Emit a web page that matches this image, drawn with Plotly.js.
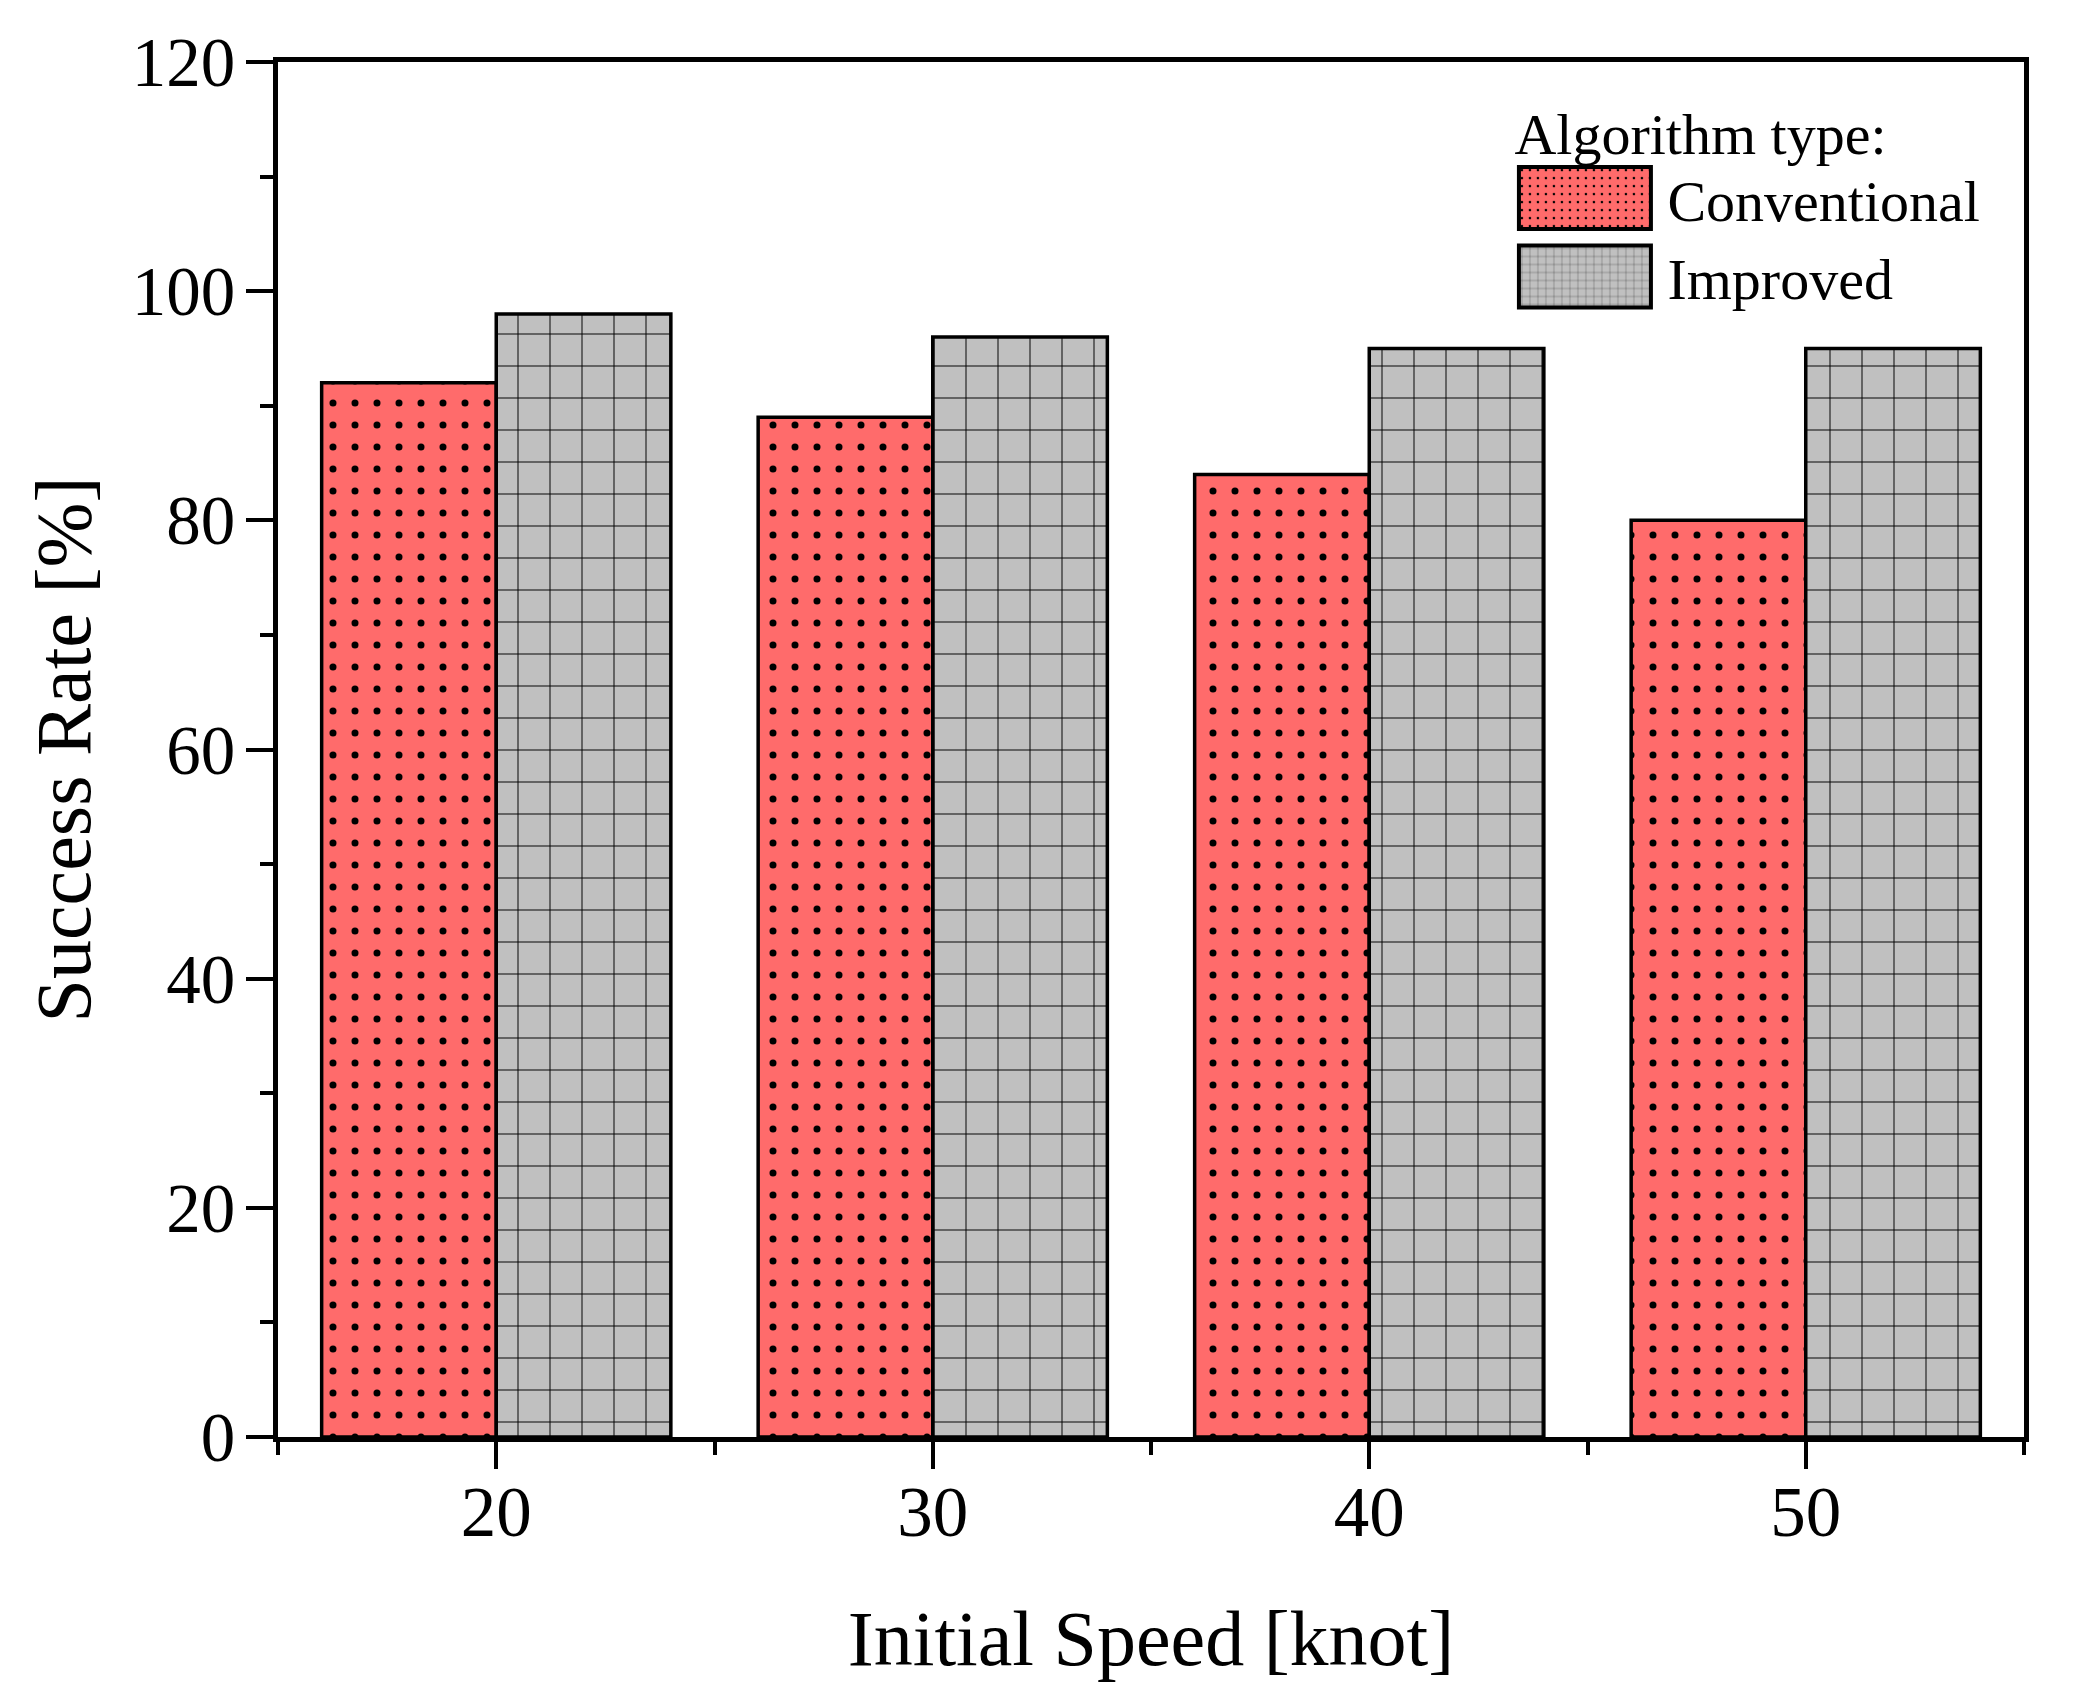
<!DOCTYPE html>
<html>
<head>
<meta charset="utf-8">
<script src="https://cdn.plot.ly/plotly-3.0.1.min.js"></script>
<style>
  html, body { margin: 0; padding: 0; background: #fff; }
  #chart { width: 2073px; height: 1707px; }
</style>
</head>
<body>
<div id="chart"></div>
<script>
// initial speed in knots
var speeds = [20, 30, 40, 50];
// success rate in percent
var conventional = [92, 89, 84, 80];
var improved = [98, 96, 95, 95];
var yTicks = [0, 20, 40, 60, 80, 100, 120];

var serif = '"Liberation Serif", "Times New Roman", serif';

var traces = [
  {
    type: 'bar',
    name: 'Conventional',
    x: speeds,
    y: conventional,
    marker: {
      color: '#ff6b6b',
      line: {color: '#000', width: 3.5},
      pattern: {shape: '.', bgcolor: '#ff6b6b', fgcolor: '#000', size: 22, solidity: 0.08}
    }
  },
  {
    type: 'bar',
    name: 'Improved',
    x: speeds,
    y: improved,
    marker: {
      color: '#c0c0c0',
      line: {color: '#000', width: 3.5},
      pattern: {shape: '+', bgcolor: '#c0c0c0', fgcolor: '#000', size: 32, solidity: 0.06}
    }
  }
];

var layout = {
  width: 2073,
  height: 1707,
  margin: {l: 278, r: 49, t: 62, b: 270},
  paper_bgcolor: '#fff',
  plot_bgcolor: '#fff',
  font: {family: serif, color: '#000', size: 70},
  barmode: 'group',
  bargap: 0.2,
  bargroupgap: 0,
  showlegend: true,
  xaxis: {
    range: [15, 55],
    tickvals: speeds,
    ticks: 'outside',
    ticklen: 27,
    tickwidth: 4,
    tickcolor: '#000',
    minor: {dtick: 10, tick0: 15, ticks: 'outside', ticklen: 13, tickwidth: 4, tickcolor: '#000'},
    showline: true,
    linewidth: 5,
    linecolor: '#000',
    mirror: true,
    showgrid: false,
    zeroline: false,
    tickfont: {size: 71},
    ticklabelstandoff: -18,
    title: {text: 'Initial Speed [knot]', font: {size: 78}, standoff: 62}
  },
  yaxis: {
    range: [0, 120],
    tickvals: yTicks,
    ticks: 'outside',
    ticklen: 27,
    tickwidth: 4,
    tickcolor: '#000',
    minor: {dtick: 10, ticks: 'outside', ticklen: 13, tickwidth: 4, tickcolor: '#000'},
    showline: true,
    linewidth: 5,
    linecolor: '#000',
    mirror: true,
    showgrid: false,
    zeroline: false,
    tickfont: {size: 69},
    ticklabelstandoff: -3,
    title: {text: 'Success Rate [%]', font: {size: 78}, standoff: 17}
  },
  legend: {
    x: 0.707,
    y: 0.988,
    xanchor: 'left',
    yanchor: 'top',
    bgcolor: 'rgba(0,0,0,0)',
    borderwidth: 0,
    itemwidth: 145,
    font: {size: 58},
    title: {text: 'Algorithm type:', font: {size: 58}}
  }
};

Plotly.newPlot('chart', traces, layout, {displayModeBar: false}).then(function (gd) {
  // enlarge legend swatches to match the wide boxes of the original
  gd.querySelectorAll('.legend .traces .legendpoints path').forEach(function (p) {
    p.setAttribute('d', 'M-71,-31H61V31H-71Z');
    p.style.strokeWidth = '4px';
  });
});
</script>
</body>
</html>
